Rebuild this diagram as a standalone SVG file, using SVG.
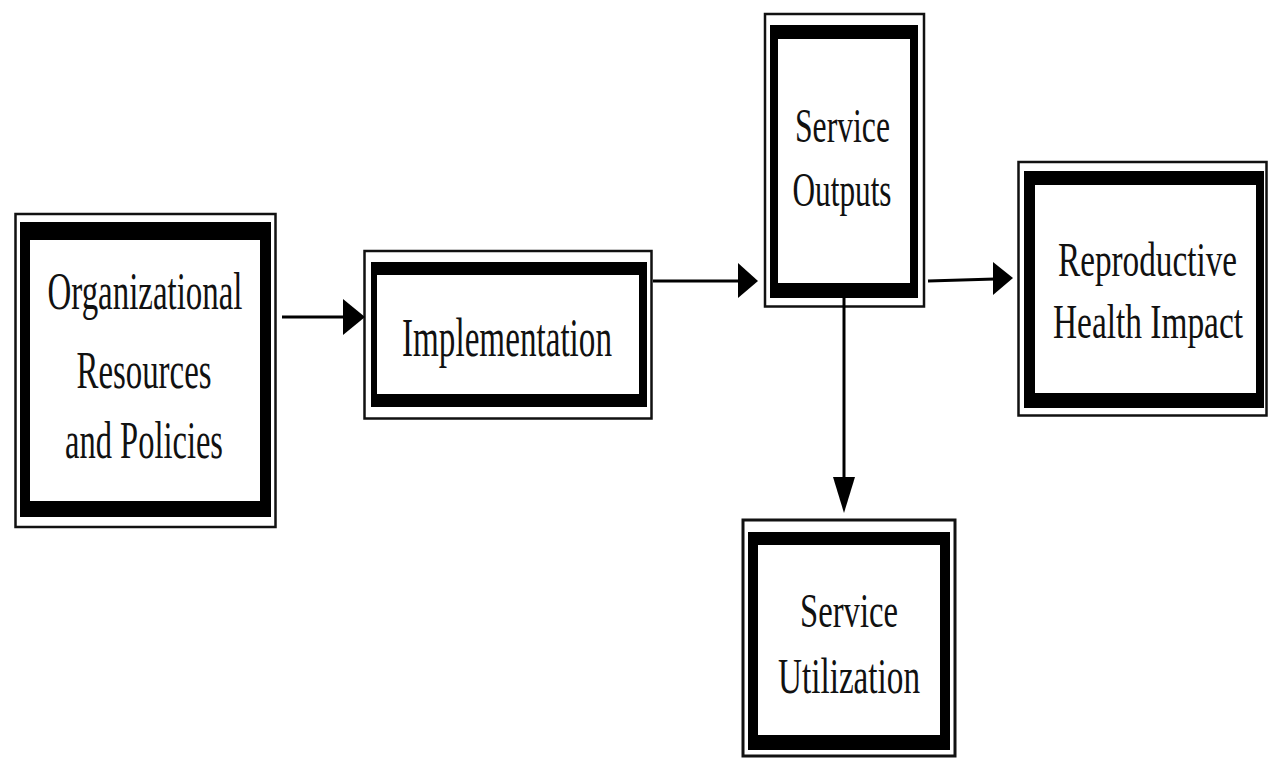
<svg xmlns="http://www.w3.org/2000/svg" width="1268" height="758" viewBox="0 0 1268 758">
<style>
.outer{fill:none;stroke:#111;stroke-width:2.5}
.frame{fill:#000;fill-rule:evenodd}
.lbl{font-family:"Liberation Serif","Times New Roman",serif;fill:#111;text-anchor:middle}
.line{stroke:#000;stroke-width:3;fill:none}
.head{fill:#000}
</style>
<rect width="1268" height="758" fill="#fff"/>
<g id="node-org">
<rect class="outer" x="15.5" y="214" width="260" height="313"/>
<path class="frame" d="M20,222H271V517H20Z M30,240V501H260V240Z"/>
<text class="lbl" x="145" y="309" font-size="52" textLength="195" lengthAdjust="spacingAndGlyphs">Organizational</text>
<text class="lbl" x="144" y="388" font-size="52" textLength="135" lengthAdjust="spacingAndGlyphs">Resources</text>
<text class="lbl" x="144" y="458" font-size="52" textLength="158" lengthAdjust="spacingAndGlyphs">and Policies</text>
</g>
<g id="node-impl">
<rect class="outer" x="364.5" y="251" width="287" height="167.5"/>
<path class="frame" d="M371,262H647V407H371Z M377,275V394H639V275Z"/>
<text class="lbl" x="507" y="356" font-size="55" textLength="210" lengthAdjust="spacingAndGlyphs">Implementation</text>
</g>
<g id="node-outputs">
<rect class="outer" x="765" y="14" width="159" height="292.5"/>
<path class="frame" d="M770,25H918V298H770Z M778,39V283H910V39Z"/>
<text class="lbl" x="842.5" y="142" font-size="48" textLength="95" lengthAdjust="spacingAndGlyphs">Service</text>
<text class="lbl" x="842" y="206" font-size="48" textLength="99" lengthAdjust="spacingAndGlyphs">Outputs</text>
</g>
<g id="node-impact">
<rect class="outer" x="1018.5" y="162" width="248" height="253.5"/>
<path class="frame" d="M1024,171H1264V408H1024Z M1035,185V393H1256V185Z"/>
<g transform="translate(1148,0) scale(0.72,1)">
<text class="lbl" x="-0.7" y="276.5" font-size="48" textLength="248.6" lengthAdjust="spacingAndGlyphs">Reproductive</text>
<text class="lbl" x="0" y="338" font-size="48" textLength="263.9" lengthAdjust="spacingAndGlyphs">Health Impact</text>
</g>
</g>
<g id="node-util">
<rect class="outer" x="743" y="520" width="212" height="236" style="stroke-width:3"/>
<path class="frame" d="M748,532H950V750H748Z M758,545V735H940V545Z"/>
<text class="lbl" x="849" y="626.5" font-size="48" textLength="98" lengthAdjust="spacingAndGlyphs">Service</text>
<text class="lbl" x="849" y="693" font-size="50" textLength="142" lengthAdjust="spacingAndGlyphs">Utilization</text>
</g>
<g id="connectors">
<line class="line" x1="282" y1="317" x2="345" y2="317"/>
<polygon class="head" points="343,299 365,317 343,335"/>
<line class="line" x1="653" y1="281" x2="740" y2="281"/>
<polygon class="head" points="738,263 758,281 738,298"/>
<line class="line" x1="928" y1="281" x2="995" y2="279"/>
<polygon class="head" points="993,262 1013,278 993,295"/>
<line class="line" x1="844" y1="298" x2="844" y2="479"/>
<polygon class="head" points="833,477 855,477 844,513"/>
</g>
</svg>
